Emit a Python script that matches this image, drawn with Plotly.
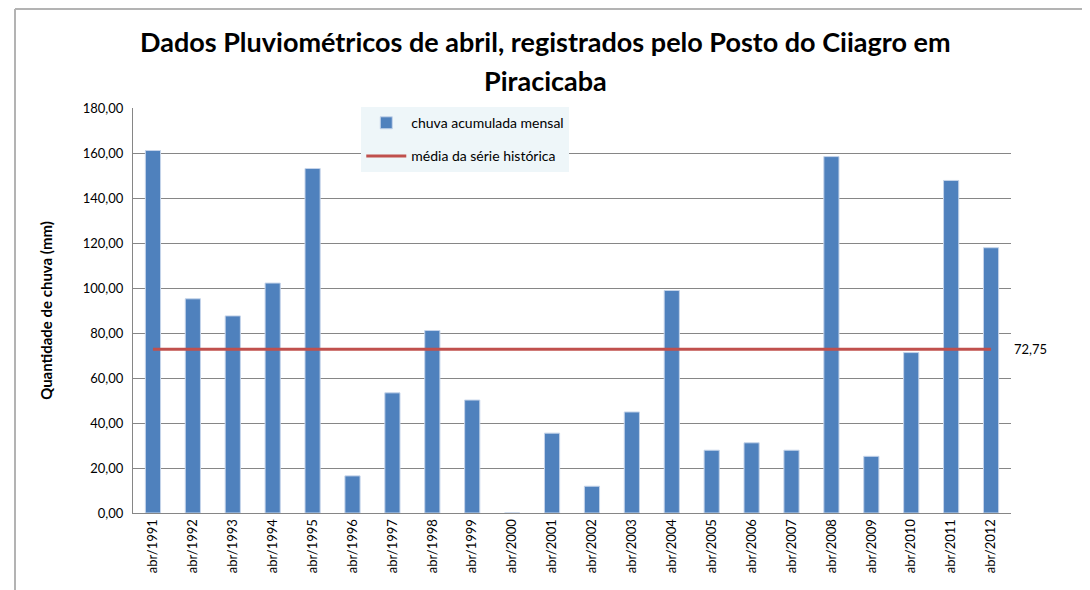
import plotly.graph_objects as go

categorias = ["abr/1991", "abr/1992", "abr/1993", "abr/1994", "abr/1995", "abr/1996",
              "abr/1997", "abr/1998", "abr/1999", "abr/2000", "abr/2001", "abr/2002",
              "abr/2003", "abr/2004", "abr/2005", "abr/2006", "abr/2007", "abr/2008",
              "abr/2009", "abr/2010", "abr/2011", "abr/2012"]
chuva_mensal = [161.1, 95.2, 87.6, 102.2, 153.1, 16.5,
                53.4, 81.1, 50.2, 0.0, 35.5, 11.9,
                44.9, 98.9, 27.9, 31.2, 27.9, 158.4,
                25.2, 71.3, 147.8, 117.9]
media_historica = 72.75
y_ticks = [0, 20, 40, 60, 80, 100, 120, 140, 160, 180]
titulo = ["Dados Pluviométricos de abril, registrados pelo Posto do Ciiagro em", "Piracicaba"]

FONT = "Lato, Open Sans, sans-serif"

fig = go.Figure()
fig.add_trace(go.Bar(
    x=categorias, y=chuva_mensal, name="chuva acumulada mensal",
    legendgroup="a",
    marker=dict(color="#4F81BD", line=dict(color="#C5D4EA", width=1)),
))
fig.add_trace(go.Scatter(
    x=[categorias[0], categorias[-1]], y=[media_historica, media_historica],
    mode="lines", name="média da série histórica", legendgroup="b",
    line=dict(color="#C0504D", width=3),
))

fig.add_annotation(
    x=1.0, xref="paper", y=media_historica, yref="y",
    text=f"{media_historica:.2f}".replace(".", ","), showarrow=False,
    xanchor="left", xshift=1, font=dict(family=FONT, size=13, color="#000000"),
)

# title as two lines (wider line spacing, like the original)
for texto, ypos in zip(titulo, [1.163, 1.069]):
    fig.add_annotation(
        x=0.470, xref="paper", y=ypos, yref="paper", text=f"<b>{texto}</b>",
        showarrow=False, xanchor="center", yanchor="middle",
        font=dict(family=FONT, size=27, color="#000000"),
    )

# outer chart frame
fig.add_shape(type="line", xref="paper", yref="paper",
              x0=-0.1344, x1=1.1, y0=1.2444, y1=1.2444,
              line=dict(color="#B3B3B3", width=2))
fig.add_shape(type="line", xref="paper", yref="paper",
              x0=-0.1344, x1=-0.1344, y0=1.2444, y1=-0.2,
              line=dict(color="#B3B3B3", width=2))

fig.update_layout(
    width=1082, height=582,
    margin=dict(l=125, r=79, t=100, b=77),
    paper_bgcolor="white", plot_bgcolor="white",
    separators=",.",
    bargap=0.62,
    font=dict(family=FONT, size=12, color="#000000"),
    legend=dict(
        x=0.26, y=1.002, xanchor="left", yanchor="top",
        bgcolor="#EEF6F9", font=dict(family=FONT, size=14, color="#000000"),
        traceorder="grouped", tracegroupgap=12, itemwidth=40,
    ),
    showlegend=True,
)
fig.update_xaxes(
    type="category", tickangle=-90, showgrid=False,
    showline=True, linecolor="#868686", linewidth=1,
    ticks="", tickfont=dict(family=FONT, size=13),
)
fig.update_yaxes(
    range=[0, 180], tickvals=y_ticks, tickformat=".2f",
    showgrid=True, gridcolor="#868686", gridwidth=1,
    showline=True, linecolor="#868686", linewidth=1,
    ticks="", tickfont=dict(family=FONT, size=13), ticklabelstandoff=6,
    zeroline=False,
    title=dict(text="<b>Quantidade de chuva (mm)</b>", font=dict(family=FONT, size=15), standoff=26),
)

fig.write_html("out.html")
